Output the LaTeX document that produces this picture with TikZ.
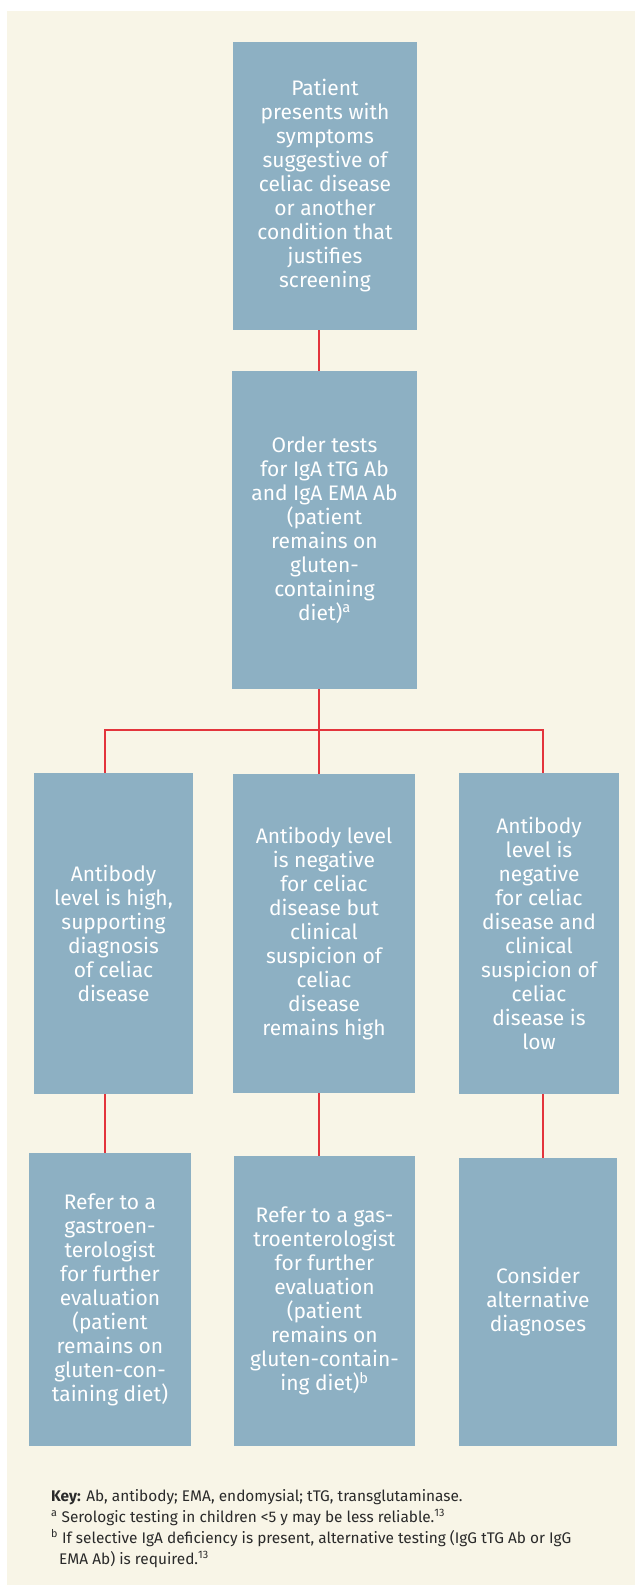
\documentclass[tikz,border=0pt]{standalone}
\usepackage{fontspec}
\setmainfont{Fira Sans}
\definecolor{bgcream}{HTML}{F8F5E7}
\definecolor{boxblue}{HTML}{8DB0C3}
\definecolor{linkred}{HTML}{E3343C}
\definecolor{keytext}{HTML}{2A2A2A}
\tikzset{
  flowbox/.style={fill=boxblue, draw=none, inner sep=0pt, text=white, align=center,
    font=\fontsize{21}{24}\selectfont},
  link/.style={draw=linkred, line width=1.3pt},
  keyline/.style={anchor=base west, inner sep=0pt, text=keytext,
    font=\fontsize{15.4}{21}\selectfont},
}
\begin{document}
\begin{tikzpicture}[x=1pt,y=-1pt]
\useasboundingbox (0,0) rectangle (635,1585);
\fill[white] (0,0) rectangle (635,1585);
\fill[bgcream] (7,11) rectangle (635,1585);

\coordinate (jl) at (105,730);
\coordinate (jc) at (319,730);
\coordinate (jr) at (543,730);

\node[flowbox, minimum width=184pt, minimum height=288pt] (b1) at (325,186)
  {Patient\\presents with\\symptoms\\suggestive of\\celiac disease\\or another\\condition that\\justifies\\screening};
\node[flowbox, minimum width=185pt, minimum height=318pt] (b2) at (324.5,530)
  {Order tests\\for IgA tTG Ab\\and IgA EMA Ab\\(patient\\remains on\\gluten-\\containing\\diet)\textsuperscript{a}};

\node[flowbox, minimum width=159pt, minimum height=321pt] (r3l) at (113.5,933.5)
  {Antibody\\level is high,\\supporting\\diagnosis\\of celiac\\disease};
\node[flowbox, minimum width=182pt, minimum height=319pt] (r3c) at (324,933.5)
  {Antibody level\\is negative\\for celiac\\disease but\\clinical\\suspicion of\\celiac\\disease\\remains high};
\node[flowbox, minimum width=160pt, minimum height=321pt] (r3r) at (539,933.5)
  {Antibody\\level is\\negative\\for celiac\\disease and\\clinical\\suspicion of\\celiac\\disease is\\low};

\node[flowbox, minimum width=162pt, minimum height=293pt] (r4l) at (110,1299.5)
  {Refer to a\\gastroen-\\terologist\\for further\\evaluation\\(patient\\remains on\\gluten-con-\\taining diet)};
\node[flowbox, minimum width=181pt, minimum height=290pt] (r4c) at (324.5,1301)
  {Refer to a gas-\\troenterologist\\for further\\evaluation\\(patient\\remains on\\gluten-contain-\\ing diet)\textsuperscript{b}};
\node[flowbox, minimum width=158pt, minimum height=288pt] (r4r) at (538,1302)
  {Consider\\alternative\\diagnoses};

\draw[link] (b1.south -| jc) -- (b2.north -| jc);
\draw[link] (b2.south -| jc) -- (r3c.north -| jc);
\draw[link] (r3l.north -| jl) -- (jl) -- (jr) -- (r3r.north -| jr);
\draw[link] (r3l.south -| jl) -- (r4l.north -| jl);
\draw[link] (r3c.south -| jc) -- (r4c.north -| jc);
\draw[link] (r3r.south -| jr) -- (r4r.north -| jr);

\node[keyline] (key1) at (51,1501)
  {\textbf{Key:} Ab, antibody; EMA, endomysial; tTG, transglutaminase.};
\node[keyline] (key2) at (51,1522)
  {\textsuperscript{a} Serologic testing in children <5 y may be less reliable.\textsuperscript{13}};
\node[keyline] (key3) at (51,1543)
  {\textsuperscript{b} If selective IgA deficiency is present, alternative testing (IgG tTG Ab or IgG};
\node[keyline] (key4) at (59,1564)
  {EMA Ab) is required.\textsuperscript{13}};
\end{tikzpicture}
\end{document}
